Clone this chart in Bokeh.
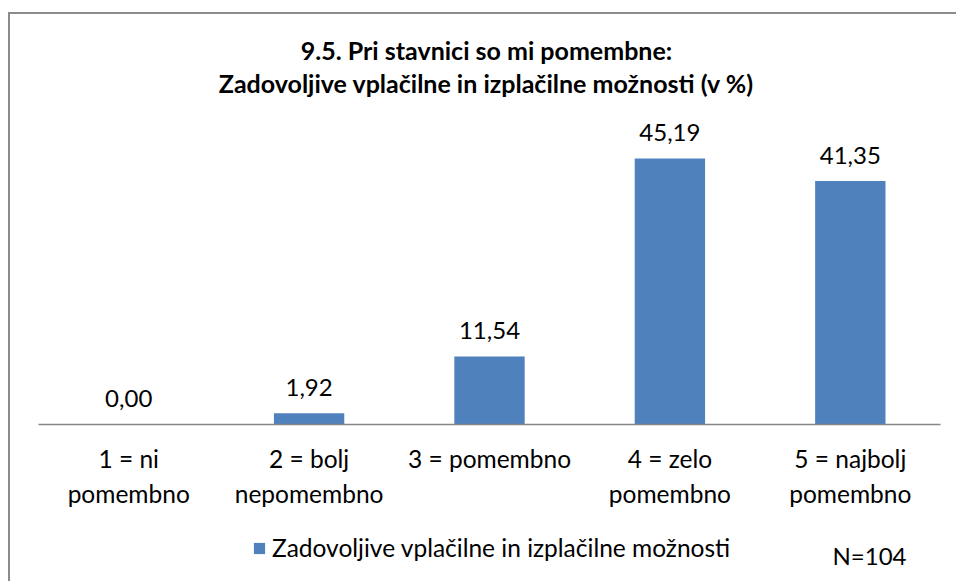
from bokeh.plotting import figure
from bokeh.models import (FactorRange, Range1d, Label, Legend, LegendItem,
                          ColumnDataSource)
from bokeh.core.properties import value
from bokeh.embed import file_html
from bokeh.resources import INLINE

categories = ["1 = ni\npomembno", "2 = bolj\nnepomembno", "3 = pomembno",
              "4 = zelo\npomembno", "5 = najbolj\npomembno"]
values = [0.00, 1.92, 11.54, 45.19, 41.35]
value_labels = ["0,00", "1,92", "11,54", "45,19", "41,35"]
series_name = "Zadovoljive vplačilne in izplačilne možnosti"
title_lines = ["9.5. Pri stavnici so mi pomembne:",
               "Zadovoljive vplačilne in izplačilne možnosti (v %)"]
n_text = "N=104"

FONT = "Lato"
BLUE = "#4F81BD"
GREY = "#8c8c8c"

line1 = [c.split("\n")[0] for c in categories]
line2 = [c.split("\n")[1] if "\n" in c else "" for c in categories]
src = ColumnDataSource(dict(cat=categories, val=values, lab=value_labels,
                            l1=line1, l2=line2, zero=[0] * len(categories)))

p = figure(width=956, height=581, output_backend="svg", toolbar_location=None,
           x_range=FactorRange(factors=categories, range_padding=32 / 902,
                               range_padding_units="percent"),
           y_range=Range1d(-26.67, 72.03),
           min_border_left=22, min_border_right=0,
           min_border_top=0, min_border_bottom=0)
p.background_fill_color = None
p.border_fill_color = None
p.outline_line_color = None
p.grid.visible = False
p.xaxis.visible = False
p.yaxis.visible = False
p.styles = {
    "background": (f"linear-gradient({GREY},{GREY}) 8px 12px / 2px 100% no-repeat, "
                   f"linear-gradient({GREY},{GREY}) 8px 12px / 100% 2px no-repeat, white"),
}

bars = p.vbar(x="cat", top="val", width=0.39, source=src,
              fill_color=BLUE, line_color=None)

# category axis line (from the left edge of the first category to the right edge of the last)
p.segment(x0=[(categories[0], -0.5)], x1=[(categories[-1], 0.5)], y0=[0], y1=[0],
          line_color="#868686", line_width=1.5)

# value labels
p.text(x="cat", y="val", text="lab", source=src, text_align="center",
       text_baseline="alphabetic", y_offset=-26,
       text_font=value(FONT), text_font_size="24px", text_color="black")

# category labels (two lines)
for col, off in (("l1", 34), ("l2", 69)):
    p.text(x="cat", y="zero", text=col, source=src, text_align="center",
           text_baseline="alphabetic", y_offset=off,
           text_font=value(FONT), text_font_size="24.5px", text_color="black")

legend = Legend(items=[LegendItem(label=series_name, renderers=[bars])],
                location=(230, 19),
                glyph_width=14, glyph_height=14,
                label_standoff=6, padding=0, margin=0,
                border_line_color=None, background_fill_alpha=0,
                label_text_font=FONT, label_text_font_size="24.5px",
                label_text_color="black")
p.add_layout(legend)

p.add_layout(Label(x=810, y=26, x_units="screen", y_units="screen",
                   text=n_text, text_baseline="alphabetic",
                   text_font=FONT, text_font_size="24px", text_color="black"))

for t, yy in zip(title_lines, [532, 499]):
    p.add_layout(Label(x=464, y=yy, x_units="screen", y_units="screen",
                       text=t, text_align="center", text_baseline="alphabetic",
                       text_font=FONT, text_font_style="bold",
                       text_font_size="25px", text_color="black"))

open("out.html", "w").write(file_html(p, INLINE))
